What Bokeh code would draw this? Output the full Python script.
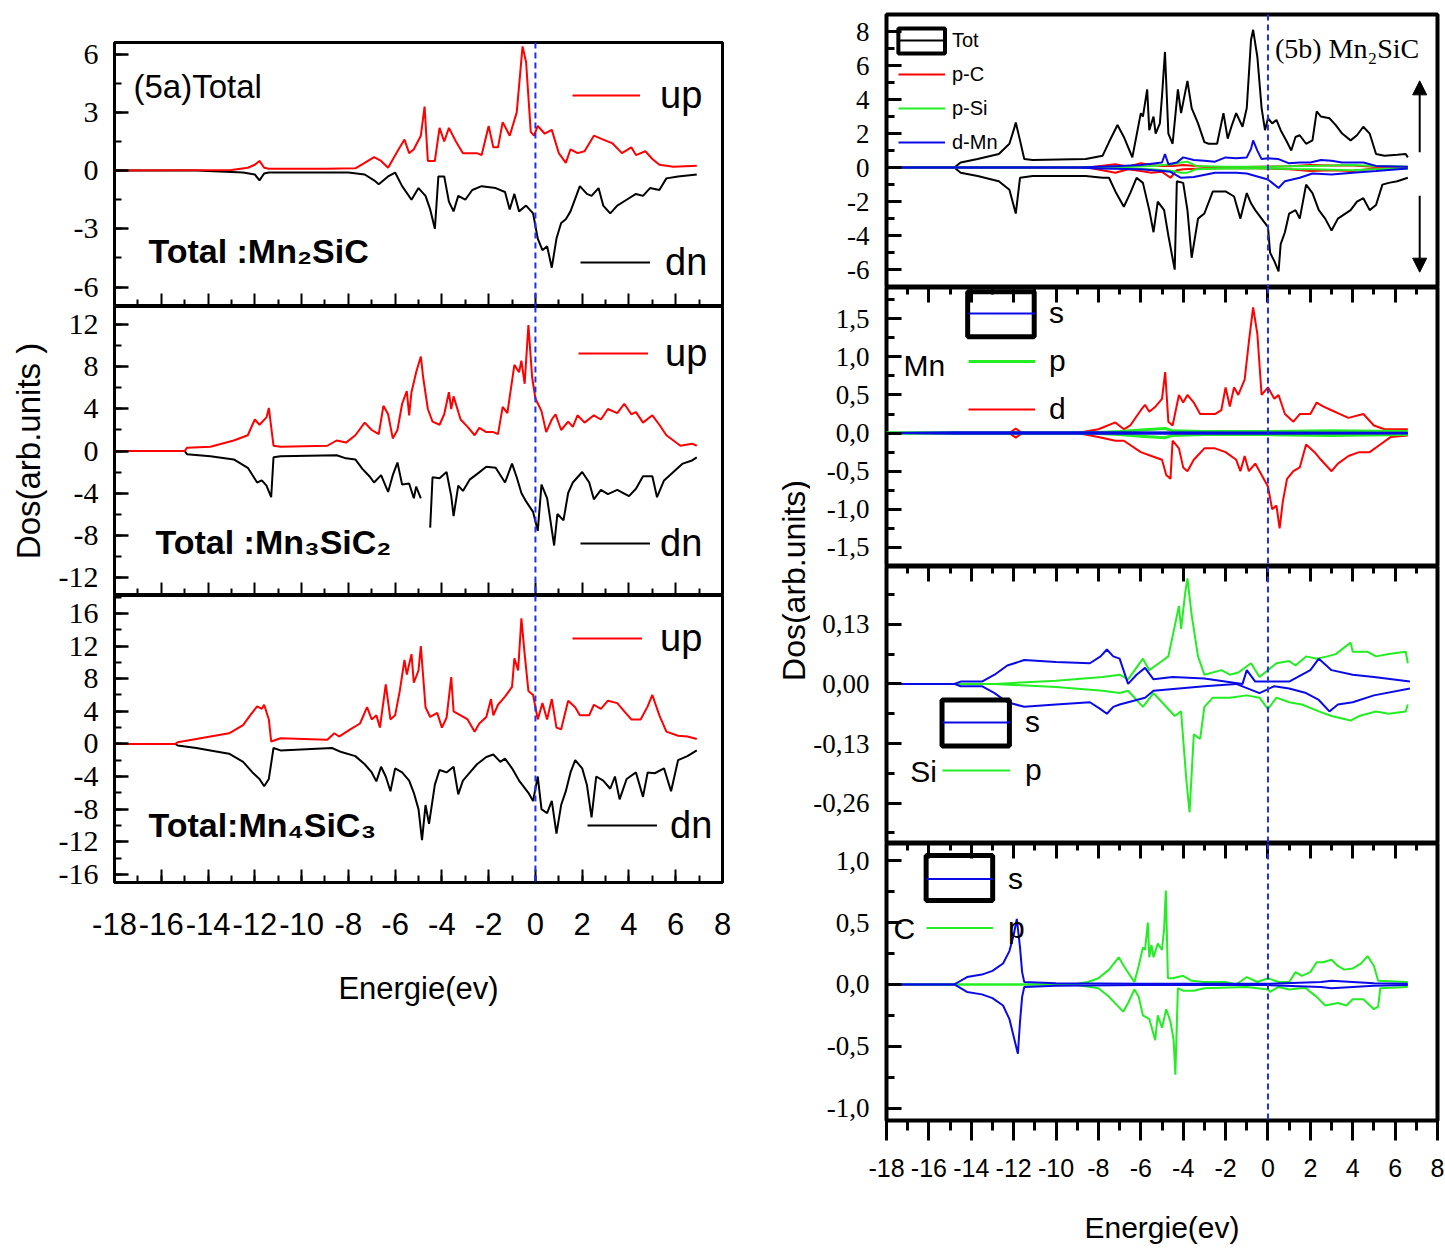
import math
from bokeh.plotting import figure
from bokeh.layouts import row, column
from bokeh.models import (Range1d, SingleIntervalTicker, FixedTicker, LinearAxis, Span, Label,
                          Legend, LegendItem, BoxAnnotation, Arrow, NormalHead, CustomJSTickFormatter)
from bokeh.embed import file_html
from bokeh.resources import INLINE

NAN = float("nan")

# ---------------- (5a) total DOS, (energy eV, states) ----------------
mn2sic_up = [(-18, 0), (-13.0, 0.03), (-12.3, 0.15), (-12.0, 0.3), (-11.8, 0.5), (-11.6, 0.15), (-11.4, 0.1),
             (-9.0, 0.1), (-7.7, 0.12), (-7.3, 0.4), (-6.9, 0.7), (-6.6, 0.5), (-6.3, 0.15), (-5.9, 1.0),
             (-5.6, 1.6), (-5.4, 0.9), (-5.2, 1.1), (-4.9, 1.8), (-4.74, 3.3), (-4.6, 0.5), (-4.3, 0.5),
             (-4.1, 2.2), (-3.9, 1.5), (-3.7, 2.2), (-3.4, 1.5), (-3.1, 0.9), (-2.5, 0.9), (-2.3, 0.8),
             (-2.0, 2.3), (-1.8, 1.2), (-1.6, 1.2), (-1.4, 2.5), (-1.1, 1.8), (-0.8, 3.0), (-0.55, 6.4),
             (-0.4, 5.6), (-0.2, 2.0), (-0.06, 1.8), (0.1, 2.3), (0.4, 1.9), (0.7, 2.1), (1.0, 0.9),
             (1.3, 0.4), (1.5, 1.1), (1.8, 0.9), (2.1, 1.0), (2.5, 1.8), (2.9, 1.6), (3.3, 1.4), (3.7, 0.9),
             (4.1, 1.2), (4.3, 0.8), (4.7, 1.0), (5.0, 0.6), (5.3, 0.3), (5.9, 0.2), (6.9, 0.25)]
mn2sic_dn = [(-18, 0), (-14.5, 0), (-13.5, -0.05), (-12.5, -0.1), (-12.0, -0.2), (-11.8, -0.5), (-11.6, -0.15),
             (-11.4, -0.1), (-8.0, -0.1), (-7.3, -0.2), (-6.9, -0.5), (-6.7, -0.7), (-6.3, -0.3), (-6.0, -0.1),
             (-5.7, -0.8), (-5.3, -1.5), (-5.0, -0.9), (-4.7, -1.3), (-4.5, -2.0), (-4.3, -3.0), (-4.15, -0.3),
             (-3.9, -0.3), (-3.7, -1.6), (-3.5, -2.1), (-3.3, -1.3), (-3.0, -1.5), (-2.7, -1.0), (-2.3, -0.8),
             (-1.7, -0.9), (-1.3, -1.1), (-1.1, -2.0), (-0.9, -1.2), (-0.7, -2.1), (-0.4, -1.8), (-0.1, -2.2),
             (0.1, -3.5), (0.3, -4.1), (0.5, -3.9), (0.7, -5.0), (0.9, -3.5), (1.1, -2.7), (1.3, -2.5),
             (1.5, -2.1), (1.9, -0.8), (2.2, -1.2), (2.4, -1.3), (2.7, -0.9), (2.9, -1.8), (3.2, -2.2),
             (3.5, -1.8), (3.9, -1.5), (4.3, -1.2), (4.6, -1.3), (4.9, -0.9), (5.3, -1.0), (5.6, -0.4),
             (6.1, -0.3), (6.9, -0.2)]

mn3sic2_up = [(-18, 0), (-15.0, 0), (-14.9, 0.3), (-13.9, 0.4), (-12.9, 1.0), (-12.3, 1.5), (-12.0, 3.0),
              (-11.8, 2.5), (-11.5, 3.2), (-11.4, 4.1), (-11.2, 0.5), (-10.9, 0.4), (-8.9, 0.5), (-8.5, 1.0),
              (-8.1, 0.8), (-7.7, 1.5), (-7.3, 2.7), (-7.0, 2.0), (-6.7, 1.6), (-6.5, 4.3), (-6.3, 3.5),
              (-6.1, 1.2), (-5.9, 2.0), (-5.7, 4.5), (-5.5, 5.7), (-5.4, 3.4), (-5.3, 5.6), (-5.1, 7.5),
              (-4.9, 9.0), (-4.8, 7.0), (-4.6, 4.0), (-4.4, 2.8), (-4.1, 2.5), (-3.9, 3.5), (-3.7, 5.6),
              (-3.6, 4.0), (-3.5, 5.2), (-3.2, 3.0), (-2.9, 2.3), (-2.6, 1.5), (-2.4, 2.2), (-2.1, 1.8),
              (-1.8, 1.8), (-1.6, 1.6), (-1.4, 4.2), (-1.2, 3.6), (-0.9, 8.2), (-0.7, 7.5), (-0.6, 8.6),
              (-0.46, 6.4), (-0.3, 12.0), (-0.14, 7.0), (0.0, 5.0), (0.26, 3.8), (0.46, 1.8), (0.7, 3.0),
              (0.86, 3.5), (1.1, 2.0), (1.4, 2.8), (1.6, 2.3), (1.8, 3.4), (2.1, 2.7), (2.5, 3.4), (2.8, 3.0),
              (3.1, 4.0), (3.5, 3.6), (3.8, 4.5), (4.1, 3.5), (4.3, 3.7), (4.6, 2.7), (5.0, 3.4), (5.3, 2.5),
              (5.6, 1.5), (5.9, 1.0), (6.2, 0.5), (6.7, 0.7), (6.9, 0.5)]
mn3sic2_dn = [(-18, 0), (-15.0, 0), (-14.9, -0.3), (-13.9, -0.5), (-12.9, -0.8), (-12.3, -1.6), (-11.9, -3.0),
              (-11.7, -2.8), (-11.5, -3.3), (-11.3, -4.4), (-11.2, -0.6), (-10.9, -0.5), (-8.5, -0.4),
              (-8.1, -0.7), (-7.7, -0.8), (-7.4, -1.7), (-7.1, -2.4), (-6.9, -3.0), (-6.6, -2.3), (-6.3, -3.9),
              (-6.1, -2.3), (-5.9, -1.1), (-5.7, -3.2), (-5.4, -3.1), (-5.2, -4.5), (-5.1, -3.4), (-4.9, -4.5),
              (NAN, NAN), (-4.5, -7.3), (-4.4, -2.5), (-4.1, -2.6), (-3.8, -2.0), (-3.6, -4.3), (-3.5, -6.2),
              (-3.3, -3.3), (-3.1, -3.8), (-2.8, -2.7), (-2.5, -2.2), (-2.1, -1.5), (-1.7, -1.6), (-1.3, -3.0),
              (-1.0, -1.2), (-0.8, -2.5), (-0.6, -4.0), (-0.4, -4.8), (-0.1, -5.8), (0.1, -7.6), (0.26, -3.2),
              (0.5, -4.5), (0.8, -9.0), (0.94, -6.0), (1.2, -6.6), (1.4, -4.0), (1.6, -3.0), (2.0, -2.0),
              (2.3, -3.0), (2.5, -4.6), (2.8, -3.7), (3.1, -4.1), (3.5, -3.7), (4.0, -4.3), (4.3, -3.6),
              (4.6, -2.4), (5.0, -2.4), (5.2, -4.4), (5.5, -2.8), (5.9, -2.0), (6.3, -1.2), (6.7, -0.9),
              (6.9, -0.6)]

mn4sic3_up = [(-18, 0), (-15.4, 0), (-15.3, 0.2), (-14.5, 0.6), (-13.9, 0.9), (-13.1, 1.3), (-12.5, 2.3),
              (-12.2, 3.5), (-11.9, 4.6), (-11.7, 4.3), (-11.6, 4.8), (-11.4, 3.0), (-11.3, 0.3), (-10.9, 0.7),
              (-8.9, 0.5), (-8.6, 1.3), (-8.4, 0.9), (-7.9, 1.8), (-7.5, 2.5), (-7.2, 4.5), (-7.0, 3.0),
              (-6.8, 3.5), (-6.65, 2.0), (-6.4, 7.3), (-6.2, 3.0), (-6.0, 3.5), (-5.8, 6.5), (-5.6, 10.3),
              (-5.5, 8.5), (-5.3, 11.0), (-5.2, 7.5), (-5.0, 9.0), (-4.9, 12.0), (-4.7, 4.5), (-4.5, 3.3),
              (-4.2, 3.8), (-4.0, 2.0), (-3.8, 3.2), (-3.6, 8.2), (-3.5, 4.0), (-3.2, 3.5), (-2.9, 3.0),
              (-2.6, 1.5), (-2.4, 2.5), (-2.1, 3.3), (-1.9, 5.5), (-1.8, 3.5), (-1.6, 4.8), (-1.3, 5.8),
              (-1.0, 7.0), (-0.9, 10.5), (-0.74, 9.0), (-0.6, 15.4), (-0.46, 11.0), (-0.3, 6.5), (-0.1, 6.0),
              (0.1, 3.0), (0.3, 5.0), (0.5, 3.0), (0.7, 5.5), (0.9, 2.0), (1.1, 1.8), (1.4, 5.3), (1.7, 4.5),
              (1.9, 3.5), (2.3, 3.5), (2.5, 4.8), (2.8, 4.3), (3.1, 5.3), (3.5, 5.0), (3.8, 4.0), (4.1, 3.0),
              (4.5, 3.0), (4.8, 4.6), (5.0, 6.0), (5.3, 3.5), (5.6, 1.5), (6.1, 1.0), (6.5, 0.9), (6.9, 0.6)]
mn4sic3_dn = [(-18, 0), (-15.4, 0), (-15.3, -0.2), (-14.5, -0.5), (-13.9, -0.8), (-13.1, -1.2), (-12.5, -2.2),
              (-12.1, -3.5), (-11.8, -4.3), (-11.6, -5.2), (-11.4, -4.3), (-11.2, -0.5), (-10.9, -0.8),
              (-8.7, -0.5), (-8.3, -1.0), (-7.7, -1.5), (-7.3, -2.5), (-7.0, -3.5), (-6.8, -4.6), (-6.6, -2.8),
              (-6.4, -4.0), (-6.2, -5.8), (-6.0, -3.0), (-5.7, -3.5), (-5.4, -4.5), (-5.2, -6.0), (-5.0, -8.0),
              (-4.85, -11.8), (-4.7, -7.5), (-4.55, -9.8), (-4.3, -5.0), (-4.1, -3.2), (-3.8, -3.5),
              (-3.5, -2.8), (-3.3, -6.2), (-3.1, -4.5), (-2.8, -3.5), (-2.5, -2.5), (-2.1, -1.6), (-1.8, -1.3),
              (-1.5, -2.2), (-1.3, -1.8), (-1.0, -3.0), (-0.7, -4.5), (-0.3, -6.0), (-0.1, -7.0), (0.1, -4.0),
              (0.26, -8.0), (0.5, -8.5), (0.7, -7.0), (0.9, -11.0), (1.1, -7.5), (1.3, -5.8), (1.5, -3.5),
              (1.7, -2.0), (2.0, -3.0), (2.2, -5.0), (2.4, -9.0), (2.6, -4.0), (2.9, -4.5), (3.2, -5.5),
              (3.4, -4.0), (3.6, -6.8), (3.9, -4.3), (4.3, -3.5), (4.6, -6.5), (4.8, -3.5), (5.1, -3.6),
              (5.5, -3.0), (5.8, -5.8), (6.1, -2.0), (6.5, -1.5), (6.9, -0.8)]

# ---------------- (5b) Mn2SiC: total and partial DOS ----------------
tot_up = [(-18, 0), (-14.8, 0), (-14.5, 0.3), (-13.7, 0.5), (-12.7, 0.8), (-12.2, 1.4), (-12.0, 2.2),
          (-11.9, 2.65), (-11.7, 1.6), (-11.5, 0.5), (-11.1, 0.45), (-8.6, 0.5), (-7.8, 0.7), (-7.5, 1.5),
          (-7.1, 2.5), (-6.8, 1.8), (-6.4, 0.6), (-6.0, 3.2), (-5.9, 3.0), (-5.7, 4.6), (-5.6, 2.2),
          (-5.4, 3.0), (-5.3, 2.0), (-5.1, 2.6), (-5.0, 4.2), (-4.86, 6.8), (-4.7, 2.0), (-4.5, 1.4),
          (-4.25, 4.6), (-4.1, 3.2), (-3.8, 5.1), (-3.6, 3.5), (-3.3, 2.6), (-3.0, 1.5), (-2.8, 1.4),
          (-2.4, 1.4), (-2.1, 3.2), (-1.9, 1.7), (-1.7, 2.5), (-1.5, 3.2), (-1.2, 2.4), (-1.0, 3.5),
          (-0.8, 7.5), (-0.7, 8.1), (-0.5, 6.5), (-0.3, 3.5), (-0.14, 2.2), (0.0, 2.9), (0.2, 2.6),
          (0.4, 2.8), (0.6, 2.2), (0.9, 1.5), (1.1, 1.0), (1.3, 1.8), (1.5, 1.9), (1.8, 1.4), (2.1, 1.6),
          (2.3, 3.3), (2.5, 3.0), (2.9, 2.9), (3.2, 2.5), (3.5, 2.0), (3.9, 1.6), (4.2, 1.9), (4.5, 2.4),
          (4.8, 2.0), (5.1, 0.8), (5.5, 0.7), (6.1, 0.75), (6.5, 0.8), (6.6, 0.6)]
tot_dn = [(-18, 0), (-14.8, 0), (-14.5, -0.3), (-13.7, -0.5), (-12.7, -0.8), (-12.2, -1.3), (-11.9, -2.7),
          (-11.7, -0.6), (-11.1, -0.5), (-8.6, -0.5), (-7.8, -0.6), (-7.5, -0.6), (-7.2, -1.4), (-6.8, -2.3),
          (-6.5, -1.5), (-6.2, -0.6), (-5.9, -0.9), (-5.6, -2.5), (-5.4, -3.8), (-5.2, -2.0), (-4.9, -2.5),
          (-4.7, -4.0), (-4.4, -6.0), (-4.3, -0.8), (-4.0, -0.9), (-3.8, -2.5), (-3.6, -5.3), (-3.3, -3.0),
          (-3.0, -2.7), (-2.6, -1.4), (-2.0, -1.4), (-1.6, -1.7), (-1.3, -3.0), (-1.0, -1.5), (-0.8, -2.1),
          (-0.6, -2.5), (-0.3, -3.0), (0.0, -3.5), (0.1, -5.0), (0.3, -5.5), (0.5, -6.1), (0.6, -4.5),
          (0.8, -3.8), (1.0, -2.7), (1.3, -2.5), (1.5, -3.0), (1.8, -1.0), (2.1, -1.5), (2.4, -2.5),
          (2.7, -3.0), (3.0, -3.7), (3.3, -3.0), (3.9, -2.5), (4.2, -2.0), (4.5, -1.8), (4.8, -2.5),
          (5.1, -2.2), (5.4, -1.0), (5.7, -0.9), (6.1, -0.8), (6.6, -0.6)]
pc_up = [(-18, 0), (-8.5, 0), (-7.2, 0.2), (-6.6, 0.05), (-6.0, 0.25), (-5.5, 0.15), (-5.0, 0.1), (-4.5, 0.1),
         (-4.0, 0.15), (-3.0, 0.05), (-1.0, 0.03), (1.0, 0.08), (2.0, 0.15), (3.0, 0.12), (4.0, 0.12),
         (5.0, 0.05), (6.6, 0.03)]
pc_dn = [(-18, 0), (-8.5, 0), (-7.2, -0.3), (-6.6, -0.1), (-6.0, -0.2), (-5.5, -0.3), (-5.0, -0.25),
         (-4.6, -0.6), (-4.3, -0.15), (-4.0, -0.1), (-3.0, -0.05), (-1.0, -0.03), (1.0, -0.1), (2.0, -0.2),
         (3.0, -0.15), (4.0, -0.2), (5.0, -0.06), (6.6, -0.03)]
psi_up = [(-18, 0), (-8.0, 0), (-6.5, 0.05), (-5.5, 0.1), (-4.5, 0.2), (-4.1, 0.3), (-3.8, 0.35), (-3.4, 0.1),
          (-2.0, 0.05), (0.0, 0.05), (1.0, 0.08), (2.0, 0.1), (3.0, 0.12), (4.0, 0.15), (5.0, 0.1), (6.6, 0.05)]
psi_dn = [(-18, 0), (-8.0, 0), (-6.5, -0.05), (-5.5, -0.1), (-4.5, -0.2), (-4.1, -0.3), (-3.8, -0.3),
          (-3.4, -0.1), (-2.0, -0.05), (0.0, -0.05), (1.0, -0.08), (2.0, -0.1), (3.0, -0.12), (4.0, -0.15),
          (5.0, -0.1), (6.6, -0.05)]
dmn_up = [(-18, 0), (-9.0, 0), (-8.0, 0.05), (-7.0, 0.1), (-6.0, 0.15), (-5.0, 0.3), (-4.86, 0.8), (-4.7, 0.2),
          (-4.3, 0.3), (-4.0, 0.6), (-3.5, 0.45), (-3.0, 0.4), (-2.5, 0.35), (-2.0, 0.6), (-1.5, 0.55),
          (-1.0, 0.6), (-0.8, 1.1), (-0.7, 1.6), (-0.5, 1.0), (-0.3, 0.5), (0.0, 0.55), (0.5, 0.5),
          (1.0, 0.25), (1.5, 0.3), (2.0, 0.3), (2.5, 0.45), (3.0, 0.4), (3.5, 0.3), (4.5, 0.3), (5.1, 0.1),
          (6.6, 0.05)]
dmn_dn = [(-18, 0), (-9.0, 0), (-8.0, -0.05), (-6.0, -0.1), (-5.0, -0.2), (-4.6, -0.25), (-4.1, -0.6),
          (-3.5, -0.55), (-2.5, -0.3), (-1.5, -0.3), (-1.0, -0.35), (0.0, -0.7), (0.2, -0.9), (0.5, -1.2),
          (0.8, -0.8), (1.5, -0.6), (2.1, -0.35), (3.0, -0.4), (4.0, -0.3), (5.1, -0.2), (6.6, -0.05)]

# Mn s, p, d
mn_s_up = [(-18, 0), (-14.8, 0.01), (-12.0, 0.01), (-8.0, 0.01), (6.6, 0.005)]
mn_s_dn = [(-18, 0), (-14.8, -0.01), (-12.0, -0.01), (-8.0, -0.01), (6.6, -0.005)]
mn_p_up = [(-18, 0), (-8.5, 0), (-7.0, 0.02), (-6.0, 0.04), (-4.85, 0.06), (-4.5, 0.03), (-3.0, 0.02),
           (0.0, 0.02), (3.0, 0.03), (6.6, 0.02)]
mn_p_dn = [(-18, 0), (-8.5, 0), (-7.0, -0.02), (-6.0, -0.04), (-4.85, -0.06), (-4.5, -0.03), (-3.0, -0.02),
           (0.0, -0.02), (3.0, -0.03), (6.6, -0.02)]
mn_d_up = [(-18, 0), (-12.2, 0), (-11.9, 0.06), (-11.6, 0), (-9.0, 0), (-8.0, 0.05), (-7.2, 0.14), (-6.8, 0.05),
           (-6.5, 0.1), (-6.0, 0.3), (-5.8, 0.37), (-5.6, 0.28), (-5.3, 0.35), (-5.0, 0.45), (-4.85, 0.8),
           (-4.7, 0.15), (-4.5, 0.1), (-4.2, 0.5), (-4.0, 0.4), (-3.8, 0.5), (-3.5, 0.4), (-3.2, 0.25),
           (-3.0, 0.25), (-2.5, 0.25), (-2.2, 0.3), (-2.0, 0.6), (-1.8, 0.35), (-1.6, 0.6), (-1.4, 0.5),
           (-1.1, 0.7), (-0.9, 1.2), (-0.7, 1.65), (-0.5, 1.3), (-0.3, 0.5), (0.0, 0.6), (0.3, 0.45),
           (0.5, 0.5), (0.8, 0.25), (1.2, 0.15), (1.5, 0.25), (2.0, 0.25), (2.3, 0.4), (2.6, 0.35), (3.0, 0.3),
           (3.4, 0.25), (3.8, 0.2), (4.5, 0.25), (5.0, 0.1), (5.5, 0.05), (6.6, 0.05)]
mn_d_dn = [(-18, 0), (-12.2, 0), (-11.9, -0.06), (-11.6, 0), (-9.0, 0), (-8.0, -0.05), (-7.2, -0.1),
           (-6.8, -0.1), (-6.0, -0.25), (-5.5, -0.3), (-5.0, -0.35), (-4.8, -0.55), (-4.6, -0.6), (-4.5, -0.1),
           (-4.2, -0.2), (-4.0, -0.45), (-3.8, -0.5), (-3.5, -0.35), (-3.0, -0.2), (-2.5, -0.2), (-2.0, -0.25),
           (-1.5, -0.35), (-1.3, -0.5), (-1.1, -0.3), (-0.9, -0.5), (-0.6, -0.4), (-0.3, -0.55), (0.0, -0.7),
           (0.2, -1.0), (0.4, -0.95), (0.55, -1.25), (0.7, -0.9), (0.9, -0.6), (1.2, -0.5), (1.5, -0.45),
           (1.8, -0.15), (2.2, -0.25), (2.5, -0.35), (3.0, -0.5), (3.3, -0.4), (3.8, -0.3), (4.3, -0.25),
           (4.8, -0.25), (5.3, -0.15), (5.8, -0.05), (6.6, -0.03)]

# Si s, p
si_s_up = [(-18, 0), (-14.8, 0), (-14.5, 0.005), (-13.5, 0.005), (-12.9, 0.02), (-12.3, 0.04), (-11.5, 0.052),
           (-10.0, 0.048), (-8.4, 0.045), (-7.9, 0.06), (-7.6, 0.075), (-7.3, 0.06), (-7.0, 0.055),
           (-6.6, 0.0), (-6.2, 0.02), (-5.8, 0.035), (-5.4, 0.01), (-4.5, 0.015), (-3.0, 0.012),
           (-1.2, 0.0), (-1.0, 0.03), (-0.6, 0.005), (1.0, 0.005), (2.0, 0.03), (2.4, 0.055), (3.0, 0.03),
           (4.0, 0.02), (5.0, 0.015), (6.7, 0.005)]
si_s_dn = [(-18, 0), (-14.8, 0), (-14.5, -0.005), (-13.5, -0.005), (-12.9, -0.02), (-12.3, -0.04),
           (-11.5, -0.05), (-10.0, -0.045), (-8.4, -0.04), (-7.9, -0.055), (-7.6, -0.065), (-7.3, -0.05),
           (-7.0, -0.045), (-6.6, -0.04), (-6.2, -0.035), (-5.8, -0.03), (-5.4, -0.015), (-3.0, -0.005),
           (-1.5, 0.0), (-0.4, -0.02), (0.3, -0.005), (1.0, -0.01), (1.8, -0.02), (2.4, -0.035),
           (2.9, -0.06), (3.3, -0.045), (4.0, -0.04), (5.0, -0.025), (6.7, -0.01)]
si_p_up = [(-18, 0), (-12.9, 0), (-10.0, 0.007), (-7.8, 0.015), (-7.0, 0.02), (-6.6, 0.01), (-5.9, 0.055),
           (-5.6, 0.03), (-5.0, 0.05), (-4.7, 0.06), (-4.2, 0.17), (-4.1, 0.12), (-3.9, 0.2), (-3.8, 0.23),
           (-3.6, 0.15), (-3.3, 0.06), (-3.0, 0.02), (-2.2, 0.03), (-1.8, 0.02), (-1.4, 0.025), (-0.8, 0.045),
           (-0.4, 0.015), (0.0, 0.03), (0.4, 0.045), (1.0, 0.05), (1.3, 0.04), (1.8, 0.06), (2.3, 0.055),
           (2.8, 0.06), (3.2, 0.065), (3.9, 0.09), (4.0, 0.07), (4.7, 0.07), (5.1, 0.06), (5.7, 0.065),
           (6.5, 0.07), (6.6, 0.045)]
si_p_dn = [(-18, 0), (-12.9, 0), (-10.0, -0.007), (-7.8, -0.015), (-7.0, -0.02), (-6.6, -0.015),
           (-5.9, -0.05), (-5.4, -0.02), (-5.0, -0.04), (-4.4, -0.07), (-4.1, -0.06), (-3.85, -0.21),
           (-3.7, -0.28), (-3.5, -0.11), (-3.2, -0.12), (-3.0, -0.05), (-2.6, -0.03), (-1.8, -0.03),
           (-1.0, -0.025), (-0.4, -0.03), (0.0, -0.055), (0.4, -0.03), (1.0, -0.04), (1.6, -0.045),
           (2.4, -0.06), (3.0, -0.07), (3.9, -0.08), (4.3, -0.07), (5.1, -0.06), (5.7, -0.065),
           (6.5, -0.06), (6.6, -0.045)]

# C s, p
c_s_up = [(-18, 0), (-14.8, 0), (-14.6, 0.02), (-14.2, 0.06), (-13.5, 0.08), (-13.0, 0.11), (-12.5, 0.17),
          (-12.2, 0.27), (-12.0, 0.4), (-11.85, 0.53), (-11.7, 0.3), (-11.6, 0.1), (-11.5, 0.02),
          (-10.0, 0.01), (-6.0, 0.005), (0.0, 0.005), (2.5, 0.02), (3.0, 0.03), (4.0, 0.02), (5.0, 0.01),
          (6.6, 0.005)]
c_s_dn = [(-18, 0), (-14.8, 0), (-14.6, -0.02), (-14.2, -0.06), (-13.5, -0.08), (-13.0, -0.11),
          (-12.5, -0.17), (-12.2, -0.28), (-12.0, -0.42), (-11.8, -0.56), (-11.7, -0.3), (-11.6, -0.1),
          (-11.5, -0.02), (-10.0, -0.01), (-6.0, -0.005), (0.0, -0.005), (2.5, -0.02), (3.0, -0.03),
          (4.0, -0.02), (5.0, -0.01), (6.6, -0.005)]
c_p_up = [(-18, 0), (-10.0, 0), (-9.0, 0.005), (-8.5, 0.02), (-8.0, 0.05), (-7.5, 0.12), (-7.04, 0.22),
          (-6.8, 0.15), (-6.5, 0.07), (-6.3, 0.02), (-6.1, 0.15), (-5.9, 0.3), (-5.8, 0.28), (-5.67, 0.5),
          (-5.6, 0.22), (-5.5, 0.32), (-5.4, 0.22), (-5.2, 0.33), (-5.0, 0.28), (-4.9, 0.45), (-4.82, 0.76),
          (-4.72, 0.05), (-4.5, 0.05), (-4.0, 0.07), (-3.6, 0.03), (-3.0, 0.02), (-2.0, 0.02), (-1.5, 0.0),
          (-1.0, 0.06), (-0.5, 0.02), (0.0, 0.05), (0.5, 0.02), (1.0, 0.02), (1.3, 0.1), (1.6, 0.07),
          (2.0, 0.1), (2.3, 0.18), (2.6, 0.18), (3.0, 0.2), (3.3, 0.15), (3.6, 0.12), (4.0, 0.13),
          (4.4, 0.17), (4.7, 0.23), (5.0, 0.15), (5.2, 0.03), (6.6, 0.02)]
c_p_dn = [(-18, 0), (-10.0, 0), (-9.0, -0.005), (-8.0, -0.03), (-7.5, -0.1), (-6.83, -0.22), (-6.6, -0.15),
          (-6.3, -0.04), (-6.1, -0.1), (-5.9, -0.25), (-5.6, -0.28), (-5.32, -0.45), (-5.2, -0.25),
          (-5.0, -0.35), (-4.8, -0.2), (-4.6, -0.3), (-4.45, -0.45), (-4.37, -0.73), (-4.25, -0.03),
          (-4.0, -0.05), (-3.5, -0.05), (-3.0, -0.03), (-1.0, -0.02), (0.0, -0.04), (0.1, -0.06),
          (0.5, -0.02), (1.0, -0.04), (1.5, -0.03), (1.8, -0.03), (2.0, -0.06), (2.3, -0.1), (2.7, -0.17),
          (3.0, -0.16), (3.3, -0.15), (3.7, -0.17), (4.0, -0.12), (4.5, -0.12), (5.0, -0.2), (5.2, -0.18),
          (5.3, -0.03), (6.6, -0.02)]

# energy ticks
EVEN_E = list(range(-18, 9, 2))
ODD_E = list(range(-17, 8, 2))

RED = "#ff0000"
BLACK = "#000000"
BLUE = "#0a0ae6"
GREEN = "#22ee22"
DASH = "#2030e0"
SANS = "Liberation Sans"
SERIF = "Liberation Serif"

INT_FMT = CustomJSTickFormatter(code="return String(Math.round(tick));")


def fmt(digits):
    return CustomJSTickFormatter(code="return tick.toFixed(%d).replace('.', ',');" % digits)


def curve(p, pairs, color, width=2):
    return p.line([a for a, b in pairs], [b for a, b in pairs], line_color=color, line_width=width)


def fermi(p):
    p.add_layout(Span(location=0, dimension="height", line_color=DASH, line_dash="6 4", line_width=2))


def legend(p, items, x, y, glyph_w, standoff, item_h, size):
    lg = Legend(items=[LegendItem(label=t, renderers=[r]) for t, r in items], location=(x, y),
                glyph_width=glyph_w, glyph_height=item_h, label_height=item_h, label_standoff=standoff,
                spacing=0, padding=0, margin=0, border_line_alpha=0, background_fill_alpha=0,
                label_text_font=SANS, label_text_font_size=size, label_text_color="black")
    p.add_layout(lg)


def text(p, x, y, s, size, font=SANS, bold=False):
    p.add_layout(Label(x=x, y=y, text=s, text_font=font, text_font_size=size, text_baseline="middle",
                       text_align="left", text_font_style="bold" if bold else "normal", text_color="black"))


def box(p, l, r, b, t, w):
    p.add_layout(BoxAnnotation(left=l, right=r, bottom=b, top=t, fill_alpha=0, line_color="black",
                               line_alpha=1, line_width=w))


def tick_strip(p, side, positions, length, width):
    # an unlabelled axis carrying only inward tick marks
    ax = LinearAxis(ticker=FixedTicker(ticks=[], minor_ticks=positions), axis_line_color=None,
                    major_tick_in=0, major_tick_out=0, minor_tick_in=length, minor_tick_out=0,
                    minor_tick_line_width=width, major_label_standoff=0)
    p.add_layout(ax, side)


def left_panel(y0, y1, step, frame_h, top=0, bottom=0, last=False):
    p = figure(width=770, height=top + frame_h + bottom, x_range=Range1d(-18, 8), y_range=Range1d(y0, y1),
               output_backend="svg", toolbar_location=None, x_axis_location=None,
               min_border_left=114, min_border_right=48, min_border_top=top, min_border_bottom=bottom)
    p.grid.visible = False
    p.outline_line_color = "black"
    p.outline_line_width = 3
    p.outline_line_alpha = 1
    ya = p.yaxis[0]
    ya.ticker = SingleIntervalTicker(interval=step, num_minor_ticks=2)
    ya.formatter = INT_FMT
    ya.axis_line_color = None
    ya.major_tick_in, ya.major_tick_out, ya.minor_tick_in, ya.minor_tick_out = 14, 0, 7, 0
    ya.major_tick_line_width, ya.minor_tick_line_width = 2.5, 2
    ya.major_label_text_font = SERIF
    ya.major_label_text_font_size = "30px"
    ya.major_label_text_color = "black"
    ya.major_label_standoff = 16
    if last:
        xa = LinearAxis(ticker=SingleIntervalTicker(interval=2, num_minor_ticks=2), formatter=INT_FMT,
                        axis_line_color=None, major_tick_in=13, major_tick_out=0, minor_tick_in=7,
                        minor_tick_out=0, major_tick_line_width=2, minor_tick_line_width=2,
                        major_label_text_font=SANS, major_label_text_font_size="31px",
                        major_label_text_color="black", major_label_standoff=30,
                        axis_label="Energie(ev)", axis_label_text_font=SANS, axis_label_text_font_size="31px",
                        axis_label_text_font_style="normal", axis_label_text_color="black",
                        axis_label_standoff=33)
        p.add_layout(xa, "below")
    else:
        tick_strip(p, "below", EVEN_E, 13, 2)
        tick_strip(p, "below", ODD_E, 7, 2)
    fermi(p)
    return p


def right_panel(y0, y1, ticker, formatter, frame_h, top=0, bottom=0, top_axis=True, bottom_axis=False):
    p = figure(width=635, height=top + frame_h + bottom, x_range=Range1d(-18, 8), y_range=Range1d(y0, y1),
               output_backend="svg", toolbar_location=None, x_axis_location=None,
               min_border_left=71, min_border_right=8, min_border_top=top, min_border_bottom=bottom)
    p.grid.visible = False
    p.outline_line_color = "black"
    p.outline_line_width = 4
    p.outline_line_alpha = 1
    ya = p.yaxis[0]
    ya.ticker = ticker
    ya.formatter = formatter
    ya.axis_line_color = None
    ya.major_tick_in, ya.major_tick_out, ya.minor_tick_in, ya.minor_tick_out = 15, 0, 8, 0
    ya.major_tick_line_width, ya.minor_tick_line_width = 3, 3
    ya.major_label_text_font = SERIF
    ya.major_label_text_font_size = "27px"
    ya.major_label_text_color = "black"
    ya.major_label_standoff = 17
    if top_axis:
        tick_strip(p, "above", EVEN_E, 15, 3)
        tick_strip(p, "above", ODD_E, 7, 3)
    if bottom_axis:
        ax = LinearAxis(ticker=SingleIntervalTicker(interval=2, num_minor_ticks=2), formatter=INT_FMT,
                        axis_line_color=None,
                        major_tick_in=0, major_tick_out=20, minor_tick_in=0, minor_tick_out=10,
                        major_tick_line_width=3, minor_tick_line_width=3,
                        major_label_text_font=SANS, major_label_text_font_size="25px",
                        major_label_text_color="black", major_label_standoff=18,
                        axis_label="Energie(ev)", axis_label_text_font=SANS, axis_label_text_font_size="30px",
                        axis_label_text_font_style="normal", axis_label_text_color="black",
                        axis_label_standoff=31)
        p.add_layout(ax, "below")
    fermi(p)
    return p


# ---------------- left column: total DOS of the three phases ----------------
lp1 = left_panel(-7.0, 6.6, 3, 264, top=42)
d1 = curve(lp1, mn2sic_dn, BLACK)
u1 = curve(lp1, mn2sic_up, RED)
legend(lp1, [("up", u1)], 458, 188, 68, 20, 46, "38px")
legend(lp1, [("dn", d1)], 466, 21, 70, 15, 46, "38px")
text(lp1, -17.19, 4.33, "(5a)Total", "33px")
text(lp1, -16.55, -4.12, "Total :Mn\u2082SiC", "34px", bold=True)

lp2 = left_panel(-13.76, 13.76, 4, 289)
lp2.yaxis[0].axis_label = "Dos(arb.units )"
lp2.yaxis[0].axis_label_text_font = SANS
lp2.yaxis[0].axis_label_text_font_size = "33px"
lp2.yaxis[0].axis_label_text_font_style = "normal"
lp2.yaxis[0].axis_label_text_color = "black"
lp2.yaxis[0].axis_label_standoff = 9
d2 = curve(lp2, mn3sic2_dn, BLACK)
u2 = curve(lp2, mn3sic2_up, RED)
legend(lp2, [("up", u2)], 464, 219, 70, 17, 46, "38px")
legend(lp2, [("dn", d2)], 466, 29, 70, 10, 46, "38px")
text(lp2, -16.25, -8.62, "Total :Mn\u2083SiC\u2082", "34px", bold=True)

lp3 = left_panel(-17.0, 18.2, 4, 288, bottom=125, last=True)
d3 = curve(lp3, mn4sic3_dn, BLACK)
u3 = curve(lp3, mn4sic3_up, RED)
legend(lp3, [("up", u3)], 458, 221, 70, 18, 46, "38px")
legend(lp3, [("dn", d3)], 473, 34, 70, 13, 46, "38px")
text(lp3, -16.55, -10.0, "Total:Mn\u2084SiC\u2083", "34px", bold=True)

# ---------------- right column: Mn2SiC partial DOS ----------------
rp1 = right_panel(-7.05, 9.0, SingleIntervalTicker(interval=2, num_minor_ticks=2), INT_FMT, 273, top=14,
                  top_axis=False)
r_tu = curve(rp1, tot_up, BLACK)
curve(rp1, tot_dn, BLACK)
r_cu = curve(rp1, pc_up, RED)
curve(rp1, pc_dn, RED)
r_su = curve(rp1, psi_up, GREEN)
curve(rp1, psi_dn, GREEN)
r_du = curve(rp1, dmn_up, BLUE)
curve(rp1, dmn_dn, BLUE)
legend(rp1, [("Tot", r_tu), ("p-C", r_cu), ("p-Si", r_su), ("d-Mn", r_du)], 12, 128, 47, 7, 34, "20px")
box(rp1, -17.44, -15.24, 6.71, 8.18, 4)
text(rp1, 0.33, 7.0, "(5b) Mn\u2082SiC", "28px", font=SERIF)
rp1.add_layout(Arrow(end=NormalHead(size=14, fill_color="black", line_color="black"), x_start=7.16,
                     y_start=0.9, x_end=7.16, y_end=5.1, line_width=2, line_color="black"))
rp1.add_layout(Arrow(end=NormalHead(size=14, fill_color="black", line_color="black"), x_start=7.16,
                     y_start=-1.65, x_end=7.16, y_end=-6.15, line_width=2, line_color="black"))

rp2 = right_panel(-1.75, 1.91, SingleIntervalTicker(interval=0.5, num_minor_ticks=2), fmt(1), 279)
m_du = curve(rp2, mn_d_up, RED)
curve(rp2, mn_d_dn, RED)
m_pu = curve(rp2, mn_p_up, GREEN, 3)
curve(rp2, mn_p_dn, GREEN, 3)
m_su = curve(rp2, mn_s_up, BLUE)
curve(rp2, mn_s_dn, BLUE)
legend(rp2, [("s", m_su), ("p", m_pu), ("d", m_du)], 82, 133, 67, 14, 48, "30px")
box(rp2, -14.17, -11.03, 1.263, 1.855, 5)
text(rp2, -17.2, 0.89, "Mn", "30px")

rp3 = right_panel(-0.348, 0.256,
                  FixedTicker(ticks=[-0.26, -0.13, 0.0, 0.13], minor_ticks=[-0.325, -0.195, -0.065, 0.065, 0.195]),
                  fmt(2), 277)
s_pu = curve(rp3, si_p_up, GREEN)
curve(rp3, si_p_dn, GREEN)
s_su = curve(rp3, si_s_up, BLUE)
curve(rp3, si_s_dn, BLUE)
legend(rp3, [("s", s_su), ("p", s_pu)], 56, 49, 68, 15, 48, "30px")
box(rp3, -15.38, -12.2, -0.1355, -0.035, 5)
text(rp3, -16.88, -0.19, "Si", "30px")

rp4 = right_panel(-1.1, 1.14, SingleIntervalTicker(interval=0.5, num_minor_ticks=2), fmt(1), 277,
                  bottom=128, bottom_axis=True)
c_pu = curve(rp4, c_p_up, GREEN)
curve(rp4, c_p_dn, GREEN)
c_su = curve(rp4, c_s_up, BLUE)
curve(rp4, c_s_dn, BLUE)
legend(rp4, [("s", c_su), ("p", c_pu)], 40, 168, 67, 15, 49, "30px")
box(rp4, -16.13, -12.99, 0.679, 1.043, 5)
text(rp4, -17.67, 0.453, "C", "30px")

# shared y title of the right column
ylab = figure(width=40, height=1248, x_range=Range1d(0, 1), y_range=Range1d(0, 1), output_backend="svg",
              toolbar_location=None, x_axis_location=None, y_axis_location=None, min_border=0,
              outline_line_color=None)
ylab.grid.visible = False
ylab.add_layout(Label(x=0.575, y=1 - 580 / 1248, text="Dos(arb.units)", angle=math.pi / 2,
                      text_align="center", text_baseline="middle", text_font=SANS, text_font_size="32px",
                      text_color="black"))

layout = row(column(lp1, lp2, lp3), row(ylab, column(rp1, rp2, rp3, rp4)))

open("out.html", "w").write(file_html(layout, INLINE))
